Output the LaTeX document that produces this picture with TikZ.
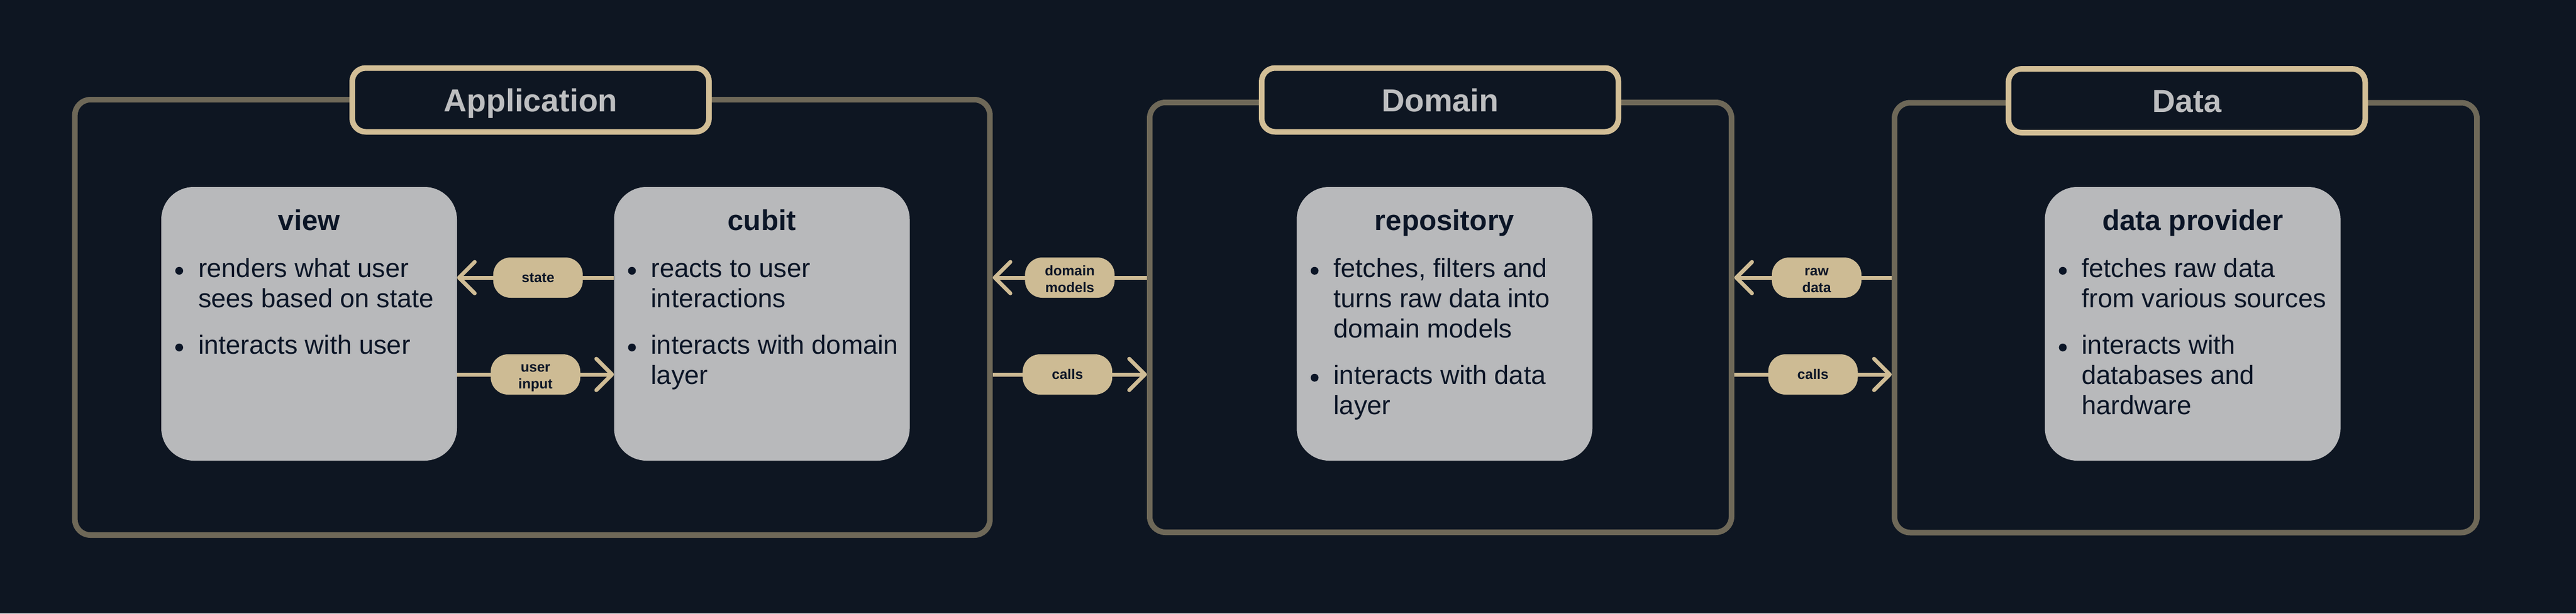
\documentclass[tikz,border=0pt]{standalone}
\usepackage{fontspec}
\setmainfont{Liberation Sans}
\usetikzlibrary{arrows.meta,calc}
\definecolor{bgc}{HTML}{0E1622}
\definecolor{outerc}{HTML}{6E6858}
\definecolor{titlec}{HTML}{D2BE96}
\definecolor{titletext}{HTML}{BDBEC0}
\definecolor{innerc}{HTML}{B8B9BB}
\definecolor{pillc}{HTML}{CDBB94}
\definecolor{linec}{HTML}{CFBC95}
\definecolor{textdark}{HTML}{0B1526}
\newcommand{\bul}{\tikz[x=1pt,y=1pt,baseline=0pt]{\useasboundingbox (0,0) rectangle (14,14);\fill[textdark] (7,12) circle[radius=7];}}
\newcommand{\bitem}[1]{\hangindent=66pt\hangafter=1\noindent\makebox[66pt][l]{\hspace{25pt}\bul}#1\par}
\newcommand{\blist}[1]{\begin{minipage}[t]{700pt}\setlength{\parskip}{29pt}\rightskip=0pt plus 1fil\hyphenpenalty=10000\fontsize{47}{54}\selectfont #1\end{minipage}}
\begin{document}
\begin{tikzpicture}[x=1pt,y=-1pt,
  outerbox/.style={draw=outerc, line width=10pt, rounded corners=28pt, inner sep=0pt},
  titlebox/.style={draw=titlec, fill=bgc, line width=10pt, rounded corners=24pt, inner sep=0pt,
    minimum width=637pt, minimum height=114pt, text=titletext, font=\bfseries\fontsize{57}{64}\selectfont,
    text height=41pt, text depth=0pt},
  innerbox/.style={fill=innerc, rounded corners=58pt, minimum width=528pt, minimum height=489pt, inner sep=0pt},
  ititle/.style={anchor=base, inner sep=0pt, text=textdark, font=\bfseries\fontsize{51}{60}\selectfont},
  btext/.style={anchor=base west, inner sep=0pt, text=textdark},
  pill/.style={fill=pillc, rounded corners=31pt, minimum width=160pt, minimum height=72pt, inner sep=0pt,
    text=textdark, align=center, font=\bfseries\fontsize{25}{30}\selectfont},
  conn/.style={draw=linec, line width=7pt, -{Straight Barb[length=28pt,width=56pt,round]}}
]
\fill[bgc] (0,0) rectangle (4600,1096);
\useasboundingbox (0,0) rectangle (4600,1096);

% outer layer boxes
\node[outerbox, minimum width=1634pt, minimum height=778pt] (app) at (950.7,567) {};
\node[outerbox, minimum width=1039pt, minimum height=768pt] (dom) at (2572.5,567) {};
\node[outerbox, minimum width=1040pt, minimum height=768pt] (dat) at (3903,567.5) {};

\node[titlebox] (appt) at (947.5,178.5) {Application};
\node[titlebox] (domt) at (2571.5,178.5) {Domain};
\node[titlebox] (datt) at (3905,180) {Data};

% inner boxes
\node[innerbox] (view) at (552,578.5) {};
\node[innerbox] (cubit) at (1360.5,578.5) {};
\node[innerbox] (repo) at (2579.5,578.5) {};
\node[innerbox] (dp) at (3915.5,578.5) {};

\node[ititle] (viewt) at ($(view.north)+(0,78)$) {view};
\node[ititle] (cubitt) at ($(cubit.north)+(0,78)$) {cubit};
\node[ititle] (repot) at ($(repo.north)+(0,78)$) {repository};
\node[ititle] (dpt) at ($(dp.north)+(0,78)$) {data provider};

\node[btext] (viewx) at ($(view.north west)+(0,162)$) {\blist{%
  \bitem{renders what user\newline sees based on state}%
  \bitem{interacts with user}}};
\node[btext] (cubitx) at ($(cubit.north west)+(0,162)$) {\blist{%
  \bitem{reacts to user\newline interactions}%
  \bitem{interacts with domain\newline layer}}};
\node[btext] (repox) at ($(repo.north west)+(0,162)$) {\blist{%
  \bitem{fetches, filters and\newline turns raw data into\newline domain models}%
  \bitem{interacts with data\newline layer}}};
\node[btext] (dpx) at ($(dp.north west)+(0,162)$) {\blist{%
  \bitem{fetches raw data\newline from various sources}%
  \bitem{interacts with\newline databases and\newline hardware}}};

% connectors
\draw[conn] (cubit.west |- 0,496) -- (view.east |- 0,496)
  node[pill, pos=0.484] (pstate) {state};
\draw[conn] (view.east |- 0,669) -- (cubit.west |- 0,669)
  node[pill, pos=0.5] (pinput) {\rule{0pt}{27pt}user\\input};
\draw[conn] (dom.west |- 0,496) -- (app.east |- 0,496)
  node[pill, pos=0.5] (pdm) {\rule{0pt}{27pt}domain\\models\rule[-5pt]{0pt}{5pt}};
\draw[conn] (app.east |- 0,669) -- (dom.west |- 0,669)
  node[pill, pos=0.485] (pcalls1) {calls};
\draw[conn] (dat.west |- 0,496) -- (dom.east |- 0,496)
  node[pill, pos=0.477] (praw) {\rule{0pt}{27pt}raw\\data\rule[-5pt]{0pt}{5pt}};
\draw[conn] (dom.east |- 0,669) -- (dat.west |- 0,669)
  node[pill, pos=0.5] (pcalls2) {calls};
\end{tikzpicture}
\end{document}
